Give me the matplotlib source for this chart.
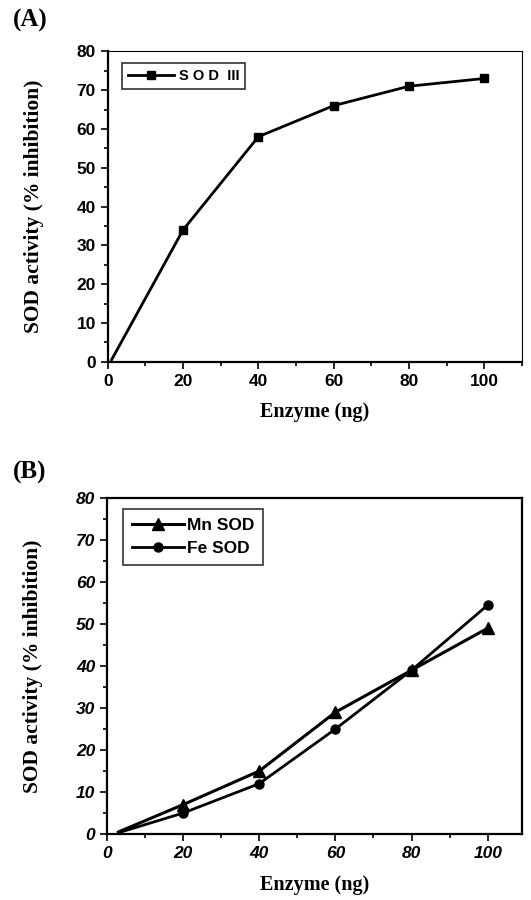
import matplotlib.pyplot as plt
from matplotlib.ticker import MultipleLocator

# (A) SOD III
enz_a = [1, 20, 40, 60, 80, 100]
sod3 = [0.5, 34, 58, 66, 71, 73]

# (B) Mn SOD / Fe SOD
enz_b = [3, 20, 40, 60, 80, 100]
mn_sod = [0.5, 7, 15, 29, 39, 49]
fe_sod = [0.3, 5, 12, 25, 39, 54.5]

serif = ['Liberation Serif', 'DejaVu Serif']
tick_a = ['Liberation Sans', 'DejaVu Sans']
tick_b = ['Liberation Sans Narrow', 'Liberation Sans', 'DejaVu Sans']

fig = plt.figure(figsize=(5.31, 9.0), dpi=100)

ax1 = fig.add_axes([0.203, 0.598, 0.780, 0.345])
ax2 = fig.add_axes([0.2015, 0.0733, 0.7815, 0.3734])


def style(ax, xmax, tickfam, tickstyle):
    ax.set_xlim(0, xmax)
    ax.set_ylim(0, 80)
    ax.xaxis.set_major_locator(MultipleLocator(20))
    ax.xaxis.set_minor_locator(MultipleLocator(10))
    ax.yaxis.set_major_locator(MultipleLocator(10))
    ax.yaxis.set_minor_locator(MultipleLocator(5))
    ax.tick_params(which='both', direction='out', width=1.2, top=False, right=False)
    ax.tick_params(which='major', length=5)
    ax.tick_params(which='minor', length=3)
    for lab in ax.get_xticklabels() + ax.get_yticklabels():
        lab.set_family(tickfam)
        lab.set_fontweight('bold')
        lab.set_fontstyle(tickstyle)
        lab.set_fontsize(12.5)
    ax.set_xlabel('Enzyme (ng)', family=serif, fontweight='bold', fontsize=14.5, labelpad=10)
    ax.set_ylabel('SOD activity (% inhibition)', family=serif, fontweight='bold',
                  fontsize=15.5)
    ax.yaxis.set_label_coords(-0.155, 0.5)


style(ax1, 110, tick_a, 'normal')
ax1.spines['left'].set_linewidth(1.6)
ax1.spines['bottom'].set_linewidth(1.6)
ax1.spines['top'].set_linewidth(0.8)
ax1.spines['right'].set_linewidth(0.8)
ax1.plot(enz_a, sod3, color='black', lw=2, marker='s', markersize=6,
         markevery=[1, 2, 3, 4, 5], label='S O D  III')
leg1 = ax1.legend(loc='upper left', prop={'family': tick_a, 'weight': 'bold', 'size': 10.5},
                  frameon=True, fancybox=False, edgecolor='black', handlelength=3.2,
                  borderpad=0.4, handletextpad=0.3, borderaxespad=0,
                  bbox_to_anchor=(0.034, 0.961))
leg1.get_frame().set_linewidth(1.2)
fig.text(0.025, 0.977, '(A)', family=serif, fontweight='bold', fontsize=18, va='center')

style(ax2, 109, tick_b, 'italic')
for s in ax2.spines.values():
    s.set_linewidth(1.6)
ax2.plot(enz_b, mn_sod, color='black', lw=2.2, marker='^', markersize=8,
         markevery=[1, 2, 3, 4, 5], label='Mn SOD')
ax2.plot(enz_b, fe_sod, color='black', lw=2, marker='o', markersize=6.5,
         markevery=[1, 2, 3, 4, 5], label='Fe SOD')
leg2 = ax2.legend(loc='upper left', prop={'family': tick_a, 'weight': 'bold', 'size': 12.5},
                  frameon=True, fancybox=False, edgecolor='black', handlelength=3.0,
                  borderpad=0.5, labelspacing=0.45, handletextpad=0.2, borderaxespad=0,
                  bbox_to_anchor=(0.039, 0.967))
leg2.get_frame().set_linewidth(1.2)
fig.text(0.025, 0.475, '(B)', family=serif, fontweight='bold', fontsize=18, va='center')

fig.savefig('out.png', dpi=100)
